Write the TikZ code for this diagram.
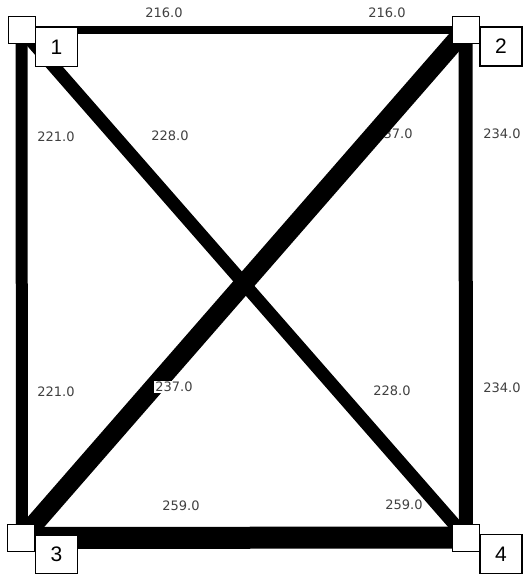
\documentclass[tikz,border=0pt]{standalone}
\usepackage{fontspec}
\setmainfont{Liberation Sans}
\newfontfamily\lblfont{DejaVu Sans}
\begin{document}
\begin{tikzpicture}[x=1pt,y=-1pt,
  vert/.style={draw=black,line width=1pt,fill=white,minimum size=27pt,inner sep=0pt},
  tag/.style={draw=black,line width=1.3pt,fill=white,minimum width=42pt,minimum height=39pt,inner sep=0pt,font=\fontsize{21}{21}\selectfont},
  wt/.style={text=black!75,font=\lblfont\fontsize{13}{13}\selectfont,inner sep=1pt},
  edge/.style={draw=black,line cap=butt}]
\useasboundingbox (0,0) rectangle (527,574);
\fill[white] (0,0) rectangle (527,574);
\coordinate (p1) at (21.5,29.5);
\coordinate (p2) at (465.5,29.5);
\coordinate (p3) at (22,538);
\coordinate (p4) at (466,537.5);
% label hidden under an edge
\node[wt] (w237a) at (394,134) {237.0};
% edges
\draw[edge,line width=8pt] (p1) -- (p2);
\draw[edge,line width=12pt] (p1) -- (p3);
\draw[edge,line width=14pt] (p2) -- (p4);
\draw[edge,line width=22pt] (p3) -- (p4);
\draw[edge,line width=13pt] (p1) -- (p4);
\draw[edge,line width=19pt] (p2) -- (p3);
% edge weights
\node[wt] (w216a) at (164,13) {216.0};
\node[wt] (w216b) at (387,13) {216.0};
\node[wt] (w221a) at (56,137) {221.0};
\node[wt] (w221b) at (56,392) {221.0};
\node[wt] (w228a) at (170,136) {228.0};
\node[wt] (w228b) at (392,391) {228.0};
\node[wt,fill=white] (w237b) at (174,387) {237.0};
\node[wt] (w234a) at (502,134) {234.0};
\node[wt] (w234b) at (502,388) {234.0};
\node[wt] (w259a) at (181,506) {259.0};
\node[wt] (w259b) at (404,505) {259.0};
% vertices
\node[vert] (n1) at (p1) {};
\node[vert] (n2) at (p2) {};
\node[vert] (n3) at (21,538) {};
\node[vert] (n4) at (p4) {};
% tags
\node[tag] (t1) at (56.5,47) {1};
\node[tag] (t2) at (501,46.5) {2};
\node[tag] (t3) at (56.5,554.5) {3};
\node[tag] (t4) at (501,554) {4};
\end{tikzpicture}
\end{document}
